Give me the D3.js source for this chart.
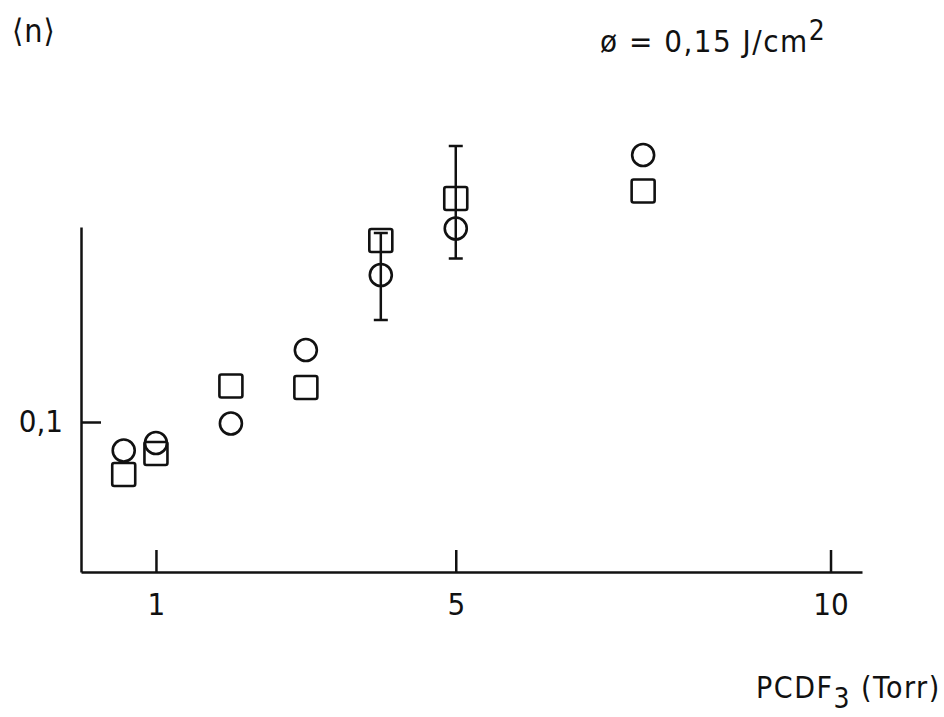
<!DOCTYPE html>
<html>
<head>
<meta charset="utf-8">
<script src="https://cdn.jsdelivr.net/npm/d3@7"></script>
<style>
  body { margin: 0; background: #fff; }
  text { font-family: "DejaVu Sans Condensed", "DejaVu Sans", sans-serif; fill: #111; }
</style>
</head>
<body>
<div id="chart"></div>
<script>
// pressure values (Torr) and <n>
var pressure = [0.57, 1.0, 2.0, 3.0, 4.0, 5.0, 7.5];
var circleN  = [0.081, 0.086, 0.099, 0.148, 0.198, 0.229, 0.278];
var squareN  = [0.065, 0.079, 0.124, 0.123, 0.221, 0.249, 0.254];

// error bars: [series, x, low, high]
var errBars = [
  ["circle", 4.0, 0.168, 0.226],
  ["square", 5.0, 0.209, 0.284]
];

var xTicks = [1, 5, 10];
var yTicks = [0.1];

var width = 944, height = 717;

var svg = d3.select("#chart")
  .append("svg")
    .attr("width", width)
    .attr("height", height);

var x = d3.scaleLinear()
  .domain([0, 10.42])
  .range([81, 862]);

var y = d3.scaleLinear()
  .domain([0, 0.23])
  .range([572, 227]);

// x axis, ticks pointing up
svg.append("g")
  .attr("transform", "translate(0,572)")
  .call(d3.axisBottom(x)
    .tickValues(xTicks)
    .tickSizeInner(-22)
    .tickSizeOuter(0)
    .tickPadding(21)
    .tickFormat(d3.format("d")));

// y axis, tick pointing right
svg.append("g")
  .attr("transform", "translate(81,0)")
  .call(d3.axisLeft(y)
    .tickValues(yTicks)
    .tickSizeInner(-20)
    .tickSizeOuter(0)
    .tickPadding(18)
    .tickFormat(function(d) { return String(d).replace(".", ","); }));

svg.selectAll(".domain, .tick line")
  .attr("stroke", "#111")
  .attr("stroke-width", 2.5);

svg.selectAll(".tick text")
  .attr("font-size", 31)
  .attr("font-family", "DejaVu Sans Condensed, DejaVu Sans, sans-serif")
  .attr("fill", "#111");

// error bars
var eb = svg.append("g")
  .attr("stroke", "#111")
  .attr("stroke-width", 2.5);

errBars.forEach(function(d) {
  var cx = x(d[1]);
  eb.append("line")
    .attr("x1", cx).attr("x2", cx)
    .attr("y1", y(d[2])).attr("y2", y(d[3]));
  eb.append("line")
    .attr("x1", cx - 7).attr("x2", cx + 7)
    .attr("y1", y(d[2])).attr("y2", y(d[2]));
  eb.append("line")
    .attr("x1", cx - 7).attr("x2", cx + 7)
    .attr("y1", y(d[3])).attr("y2", y(d[3]));
});

// squares
svg.selectAll("rect.sq")
  .data(pressure)
  .enter()
  .append("rect")
    .attr("class", "sq")
    .attr("x", function(d) { return x(d) - 11.5; })
    .attr("y", function(d, i) { return y(squareN[i]) - 11.5; })
    .attr("width", 23)
    .attr("height", 23)
    .attr("rx", 2)
    .attr("fill", "none")
    .attr("stroke", "#111")
    .attr("stroke-width", 2.6);

// circles
svg.selectAll("circle.ci")
  .data(pressure)
  .enter()
  .append("circle")
    .attr("class", "ci")
    .attr("cx", function(d) { return x(d); })
    .attr("cy", function(d, i) { return y(circleN[i]); })
    .attr("r", 11)
    .attr("fill", "none")
    .attr("stroke", "#111")
    .attr("stroke-width", 2.6);

// y label
svg.append("text")
  .attr("x", 12)
  .attr("y", 42)
  .attr("font-size", 32)
  .attr("letter-spacing", 1)
  .text("\u27E8n\u27E9");

// fluence annotation
var t = svg.append("text")
  .attr("x", 600)
  .attr("y", 52)
  .attr("font-size", 31)
  .attr("letter-spacing", 1.5);
t.append("tspan").text("\u00F8 = 0,15 J/cm");
t.append("tspan").attr("dy", -12).attr("font-size", 28).text("2");

// x label
var xl = svg.append("text")
  .attr("x", 756)
  .attr("y", 698)
  .attr("font-size", 30)
  .attr("letter-spacing", 1.5);
xl.append("tspan").text("PCDF");
xl.append("tspan").attr("dy", 10).attr("font-size", 28).text("3");
xl.append("tspan").attr("dy", -10).text(" (Torr)");
</script>
</body>
</html>
